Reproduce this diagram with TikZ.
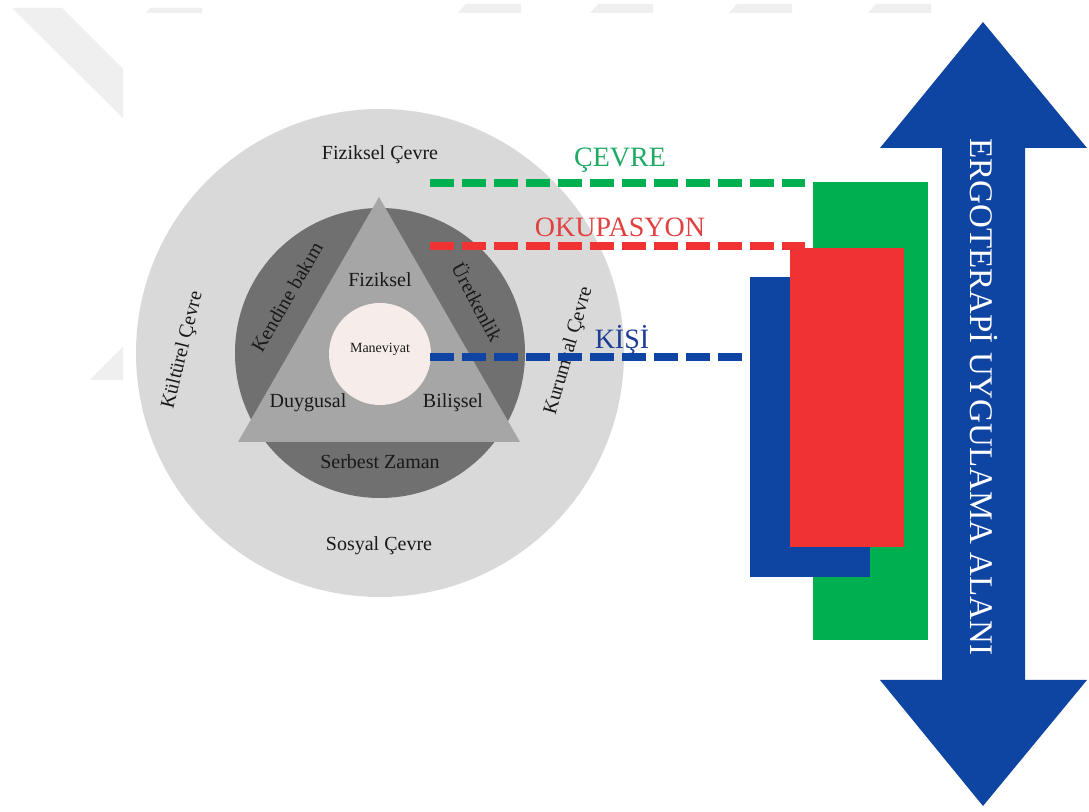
\documentclass[tikz,border=0pt]{standalone}
\usepackage{fontspec}
\setmainfont{Liberation Serif}
\definecolor{outerg}{RGB}{217,217,217}
\definecolor{ringg}{RGB}{112,112,112}
\definecolor{trig}{RGB}{166,166,166}
\definecolor{innerc}{RGB}{246,236,234}
\definecolor{cgreen}{RGB}{0,176,80}
\definecolor{cred}{RGB}{240,50,50}
\definecolor{cblue}{RGB}{14,68,162}
\definecolor{tgreen}{RGB}{30,170,100}
\definecolor{tred}{RGB}{225,65,65}
\definecolor{tblue}{RGB}{30,62,150}
\definecolor{wm}{RGB}{239,239,239}
\definecolor{txt}{RGB}{25,25,25}
\begin{document}
\begin{tikzpicture}[x=0.5pt,y=-0.5pt,
  lbl/.style={text=txt,inner sep=0pt,font=\fontsize{10}{12}\selectfont},
  clbl/.style={inner sep=0pt,font=\fontsize{14}{16}\selectfont},
  dl/.style={line width=4pt,dash pattern=on 12pt off 4pt},
  box/.style={rectangle,inner sep=0pt,anchor=north west}]
\useasboundingbox (0,0) rectangle (1089,812);
\fill[white] (0,0) rectangle (1089,812);
% faint watermark
\fill[wm] (12,8) -- (62,8) -- (123,69) -- (123,118) -- cycle;
\fill[wm] (150,8) -- (202,8) -- (202,13) -- (146,13) -- cycle;
\foreach \bx in {458,590,729,868}{
  \fill[wm] (\bx,13) -- (\bx+8,4) -- (\bx+63,4) -- (\bx+63,13) -- cycle;}
\fill[wm] (90,380) -- (123,347) -- (123,380) -- cycle;
% circles and triangle
\node[circle,fill=outerg,minimum size=244pt,inner sep=0pt] (outer) at (380,353) {};
\node[circle,fill=ringg,minimum size=145pt,inner sep=0pt] (ring) at (380,353) {};
\coordinate (tA) at (379,197);
\coordinate (tB) at (520,442);
\coordinate (tC) at (238,442);
\fill[trig] (tA) -- (tB) -- (tC) -- cycle;
\node[circle,fill=innerc,minimum size=51pt,inner sep=0pt] (inner) at (380,354) {};
% labels
\node[lbl] (fc) at (380,155) {Fiziksel Çevre};
\node[lbl] (sc) at (379,546) {Sosyal Çevre};
\node[lbl,rotate=76] (kc) at (183,350) {Kültürel Çevre};
\node[lbl,rotate=74] (krc) at (569,351) {Kurumsal Çevre};
\node[lbl,rotate=60] (kb) at (287,297) {Kendine bakım};
\node[lbl,rotate=-62] (ur) at (478,302) {Üretkenlik};
\node[lbl] (fz) at (380,280) {Fiziksel};
\node[lbl] (dy) at (308,403) {Duygusal};
\node[lbl] (bl) at (453,403) {Bilişsel};
\node[lbl] (sz) at (380,462) {Serbest Zaman};
\node[lbl,font=\fontsize{7}{8}\selectfont] (mn) at (380,349) {Maneviyat};
% right blocks
\node[box,fill=cgreen,minimum width=57.5pt,minimum height=229pt] (grect) at (813,182) {};
\node[box,fill=cblue,minimum width=60pt,minimum height=150pt] (brect) at (750,277) {};
\node[box,fill=cred,minimum width=57pt,minimum height=149.5pt] (rrect) at (790,248) {};
% colored labels
\node[clbl,text=tgreen] (cv) at (620,160) {ÇEVRE};
\node[clbl,text=tred] (ok) at (620,227) {OKUPASYON};
\node[clbl,text=tblue] (ks) at (622,340) {KİŞİ};
% dashed connectors
\coordinate (gS) at (430,183);
\coordinate (gE) at (805,183);
\coordinate (rS) at (430,246);
\coordinate (rE) at (805,246);
\coordinate (bS) at (430,357);
\coordinate (bE) at (742,357);
\draw[dl,cgreen] (gS) -- (gE);
\draw[dl,cred] (rS) -- (rE);
\draw[dl,cblue] (bS) -- (bE);
% double arrow
\fill[cblue] (983,22) -- (1087,148) -- (1025,148) -- (1025,680) -- (1087,680)
  -- (983,806) -- (880,680) -- (942,680) -- (942,148) -- (880,148) -- cycle;
\node[rotate=-90,text=white,inner sep=0pt,font=\fontsize{16.5}{18}\selectfont] (erg) at (984,397) {ERGOTERAPİ UYGULAMA ALANI};
\end{tikzpicture}
\end{document}
